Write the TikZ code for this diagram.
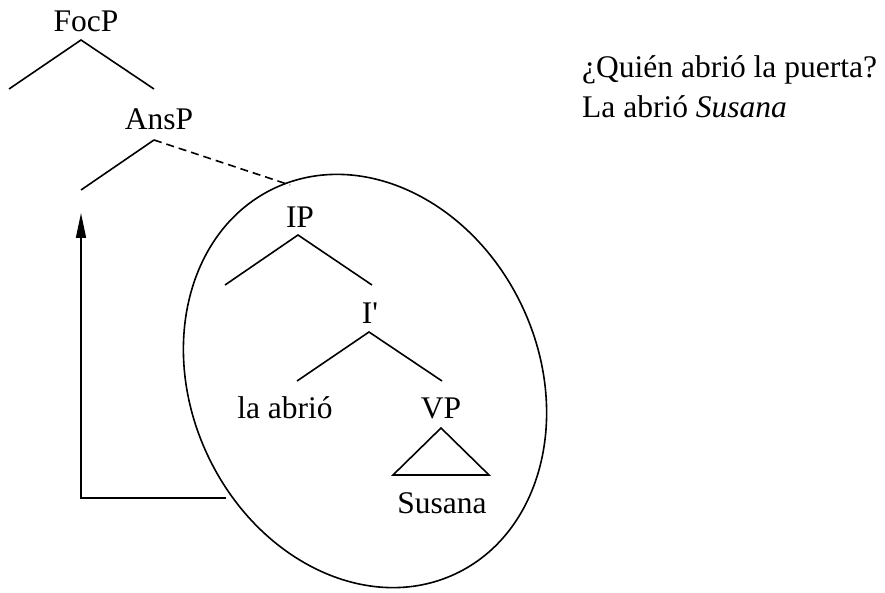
\documentclass[tikz,border=0pt]{standalone}
\usepackage{fontspec}
\setmainfont{Liberation Serif}
\font\plainLS="Liberation Serif" at 31.5pt
\usetikzlibrary{arrows.meta}
\begin{document}
\begin{tikzpicture}[x=1pt,y=1pt,
  lbl/.style={inner sep=0pt,anchor=base,font=\fontsize{31.5}{38}\selectfont},
  lblw/.style={lbl,anchor=base west},
  edge/.style={line width=1.6pt},
  dashedge/.style={line width=1.6pt,dash pattern=on 8pt off 5pt},
  movearrow/.style={line width=1.6pt,-{Triangle[length=25pt,width=10pt]}}]
\useasboundingbox (0,0) rectangle (885,-593);
% labels
\node[lbl] (focp) at (86,-32) {FocP};
\node[lbl] (ansp) at (159,-130) {AnsP};
\node[lbl] (ip) at (300,-228) {IP};
\node[lbl] (ibar) at (370,-323) {\plainLS I'};
\node[lbl] (laabrio) at (285,-418) {la abrió};
\node[lbl] (vp) at (441,-418) {VP};
\node[lbl] (susana) at (442,-513) {Susana};
\node[lblw] (q1) at (582,-78) {¿Quién abrió la puerta?};
\node[lblw] (q2) at (582,-118) {La abrió \textit{Susana}};
% coordinates
\coordinate (focpA) at (81,-40);
\coordinate (focpL) at (9,-89);
\coordinate (focpR) at (154,-89);
\coordinate (anspA) at (154,-140);
\coordinate (anspL) at (81,-190);
\coordinate (anspR) at (290,-185);
\coordinate (ipA) at (298,-235);
\coordinate (ipL) at (225,-285);
\coordinate (ipR) at (372,-285);
\coordinate (ibarA) at (369,-332);
\coordinate (ibarL) at (297,-381);
\coordinate (ibarR) at (442,-381);
\coordinate (vpA) at (441,-428);
\coordinate (vpL) at (393,-475);
\coordinate (vpR) at (489,-475);
\coordinate (ec) at (365,-381);
\coordinate (arrS) at (226,-498);
\coordinate (arrC) at (81,-498);
\coordinate (arrT) at (81,-213);
% tree edges
\draw[edge] (focpL) -- (focpA) -- (focpR);
\draw[edge] (anspL) -- (anspA);
\draw[dashedge] (anspA) -- (anspR);
\draw[edge] (ipL) -- (ipA) -- (ipR);
\draw[edge] (ibarL) -- (ibarA) -- (ibarR);
\draw[edge] (vpA) -- (vpL) -- (vpR) -- cycle;
% ellipse
\draw[edge,rotate around={25:(ec)}] (ec) ellipse [x radius=174, y radius=213];
% movement arrow
\draw[movearrow] (arrS) -- (arrC) -- (arrT);
\end{tikzpicture}
\end{document}
